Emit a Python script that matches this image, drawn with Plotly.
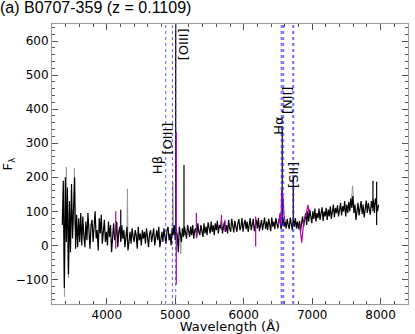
import plotly.graph_objects as go

# Spectrum sampled on a linear dispersion (start, step in Angstrom)
wave_start = 3350
wave_step = 15
flux = [
    60, 190, -125, 200, 10, 170, -85, 130, -20, 180,
    20, 140, 200, -10, 90, -5, 80, 10, 95, 0,
    85, 30, -5, 70, 15, 95, 40, -10, 60, 75,
    10, 55, 100, 20, 45, -15, 80, 35, 90, 5,
    50, 75, 10, 40, 0, 70, 25, 60, -20, 45,
    65, 15, 30, 70, -5, 40, 55, 10, 60, 20,
    45, -5, 30, 55, -15, 20, 40, 5, 50, 25,
    10, 45, 30, -10, 55, 15, 35, 0, 45, 20,
    40, 5, 50, 25, -5, 35, 45, 10, 30, 50,
    0, 35, 45, 15, 55, -5, 30, 40, 10, 50,
    25, 5, 45, 55, 15, 35, 0, 50, 30, 60,
    15, 45, 30, -20, 55, 35, 10, 50, 25, 55,
    35, 20, 60, 45, 25, 55, 30, 60, 20, 45,
    50, 25, 65, 40, 30, 60, 45, 25, 65, 35,
    55, 30, 68, 45, 35, 70, 40, 60, 30, 65,
    45, 72, 35, 60, 50, 75, 35, 55, 70, 40,
    60, 35, 75, 50, 40, 78, 55, 38, 72, 50,
    40, 65, 77, 45, 55, 80, 40, 62, 75, 48,
    70, 40, 58, 80, 45, 65, 78, 42, 60, 75,
    50, 80, 42, 65, 75, 45, 60, 82, 48, 70,
    45, 78, 60, 42, 82, 55, 70, 48, 80, 58,
    50, 75, 85, 48, 65, 80, 55, 70, 50, 78,
    60, 48, 82, 65, 45, 78, 55, 80, 50, 70,
    48, 72, 40, 65, 85, 55, 75, 95, 60, 100,
    70, 105, 85, 65, 100, 78, 108, 70, 95, 80,
    108, 75, 95, 112, 72, 100, 85, 110, 75, 105,
    85, 115, 78, 105, 120, 82, 110, 95, 118, 85,
    110, 125, 88, 115, 100, 130, 85, 120, 95, 128,
    100, 138, 110, 145, 95, 120, 75, 110, 125, 88,
    115, 130, 92, 120, 82, 110, 132, 95, 125, 105,
    90, 130, 110, 135, 95, 138, 115, 100, 120,
]
wave = [wave_start + wave_step * i for i in range(len(flux))]

# raw spectrum features showing in grey behind the cleaned one
grey_wave = [3375, 3382, 3390, None, 3400, 3410, 3420, None, 3430, 3441, 3452, None,
             3520, 3528, 3536, None, 4295, 4302, 4309, None, 4955, 4965, 4975, None,
             5070, 5080, 5090, None, 7570, 7580, 7590, 7600, 7610]
grey_flux = [60, -150, 40, None, 100, 230, 80, None, 0, -95, 20, None,
             60, 227, 50, None, 30, 166, 25, None, 30, 185, 35, None,
             20, -25, 30, None, 120, 165, 175, 150, 110]

# narrow emission spikes
spike_wave = [4204, 5007, 5128, 6563, 6724, 7888, 7942]
spike_base = [15, 30, 30, 60, 60, 100, 60]
spike_peak = [105, 660, 236, 345, 200, 190, 187]

# model residual segments (magenta)
mag_wave = [4131, 4131, None, 5015, 5015, None, 5309, 5309, None, 5675, 5675, None,
            5727, 5727, None, 6175, 6175, None,
            6510, 6530, 6545, 6555, 6575, 6590, 6605, None,
            6800, 6822, 6847, 6880, 6910, 6939, 6955]
mag_flux = [-10, 100, None, 334, -115, None, 22, 96, None, 45, 90, None,
            40, 75, None, -3, 85, None,
            60, 95, 60, 163, 140, 85, 70, None,
            60, 56, 8, 75, 90, 119, 95]

line_wave = [4861, 4959, 5007, 6548, 6563, 6584, 6717, 6731]
label_text = ['Hβ', '[OIII]', '[OIII]', 'Hα', '[NII]', '[SII]']
label_wave = [4745, 4885, 5125, 6511, 6630, 6735]
label_y = [235, 315, 590, 350, 426, 207]

fig = go.Figure()

fig.add_trace(go.Scatter(x=grey_wave, y=grey_flux, mode='lines',
                         line=dict(color='#999999', width=1)))
fig.add_trace(go.Scatter(x=wave, y=flux, mode='lines',
                         line=dict(color='black', width=1.2)))

sx, sy = [], []
for w, b, p in zip(spike_wave, spike_base, spike_peak):
    sx += [w, w, None]
    sy += [b, p, None]
fig.add_trace(go.Scatter(x=sx, y=sy, mode='lines',
                         line=dict(color='black', width=1.2)))

fig.add_trace(go.Scatter(x=mag_wave, y=mag_flux, mode='lines',
                         line=dict(color='#b000b0', width=1.2)))

for w in line_wave:
    fig.add_vline(x=w, line=dict(color='rgba(40,40,255,0.75)', width=1, dash='dot'))

for t, w, y in zip(label_text, label_wave, label_y):
    fig.add_annotation(x=w, y=y, text=t, showarrow=False, textangle=-90,
                       font=dict(family='DejaVu Sans', size=13, color='black'))

axis_style = dict(
    showline=True, linecolor='#999999', mirror='ticks',
    ticks='inside', ticklen=6, tickcolor='#555555',
    showgrid=False, zeroline=False, automargin=False,
    tickfont=dict(family='DejaVu Sans', size=12, color='black'),
)

fig.update_xaxes(range=[3200, 8400], dtick=1000,
                 minor=dict(dtick=200, ticks='inside', ticklen=3, tickcolor='#555555'),
                 title=dict(text='Wavelength (Å)', standoff=0,
                            font=dict(family='DejaVu Sans', size=13, color='black')),
                 **axis_style)
fig.update_yaxes(range=[-172, 650], dtick=100,
                 minor=dict(dtick=20, ticks='inside', ticklen=3, tickcolor='#555555'),
                 title=dict(text='F<sub>λ</sub>', standoff=4,
                            font=dict(family='DejaVu Sans', size=13, color='black')),
                 **axis_style)

fig.update_layout(
    width=415, height=334,
    margin=dict(l=52, r=7, t=24, b=30),
    plot_bgcolor='white', paper_bgcolor='white',
    showlegend=False,
    title=dict(text='(a) B0707-359 (z = 0.1109)', x=0.0, xanchor='left', y=0.995, yanchor='top',
               font=dict(family='Liberation Sans', size=16, color='black')),
)

# drop the default page margin so the figure sits at the window's corner
fig.write_html("out.html", config={'displayModeBar': False},
               post_script="document.body.style.margin='0';")
